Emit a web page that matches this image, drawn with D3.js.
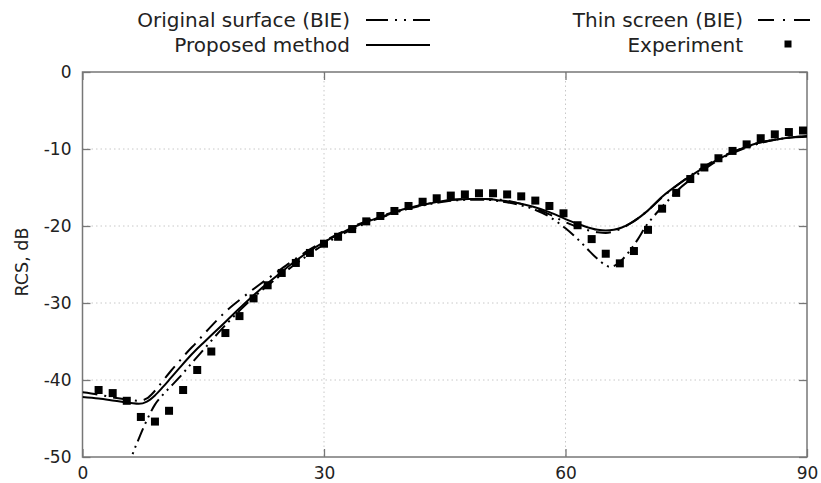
<!DOCTYPE html>
<html>
<head>
<meta charset="utf-8">
<script src="https://cdn.jsdelivr.net/npm/d3@7"></script>
<style>
  body { margin: 0; background: #fff; }
  svg { display: block; font-family: "DejaVu Sans", sans-serif; }
</style>
</head>
<body>
<svg id="chart" width="821" height="483"></svg>
<script>
// ---- data ----
const xTicks = [0, 30, 60, 90];
const yTicks = [0, -10, -20, -30, -40, -50];

const proposedAngles = [0, 2, 4, 6, 7, 8, 9, 10, 11, 12, 13, 14, 15, 16, 18, 20, 22, 24, 26, 28, 30, 32, 34, 36, 38, 40, 42, 44, 46, 48, 50, 52, 54, 56, 58, 60, 62, 64, 65, 66, 67, 68, 70, 72, 74, 76, 78, 80, 82, 84, 86, 88, 90];
const proposedValues = [-42.2, -42.4, -42.7, -43.0, -43.1, -42.8, -42.0, -40.9, -39.7, -38.5, -37.3, -36.2, -35.2, -34.2, -32.2, -30.2, -28.3, -26.6, -24.9, -23.4, -22.1, -21.0, -20.0, -19.2, -18.5, -17.8, -17.3, -16.9, -16.6, -16.5, -16.5, -16.7, -17.0, -17.5, -18.2, -19.1, -19.9, -20.5, -20.6, -20.5, -20.2, -19.7, -18.2, -16.2, -14.6, -13.2, -11.9, -10.8, -9.9, -9.2, -8.8, -8.5, -8.4];

const thinAngles = [0, 2, 4, 6, 7, 8, 9, 10, 11, 12, 13, 14, 16, 18, 20, 22, 24, 26, 28, 30, 32, 34, 36, 38, 40, 42, 44, 46, 48, 50, 52, 54, 56, 58, 60, 62, 64, 65, 66, 67, 68, 70, 72, 74, 76, 78, 80, 82, 84, 86, 88, 90];
const thinValues = [-41.6, -41.9, -42.3, -42.6, -42.7, -42.4, -41.4, -40.1, -38.8, -37.6, -36.4, -35.3, -33.0, -30.9, -29.2, -27.6, -26.1, -24.6, -23.2, -22.0, -20.9, -19.9, -19.1, -18.4, -17.8, -17.3, -16.9, -16.6, -16.5, -16.5, -16.6, -17.0, -17.6, -18.5, -19.5, -20.3, -20.8, -20.9, -20.7, -20.3, -19.7, -18.2, -16.3, -14.6, -13.1, -11.8, -10.7, -9.9, -9.2, -8.8, -8.5, -8.4];

const originalAngles = [5.5, 6.1, 7, 8, 9, 10, 11, 12, 13, 14, 16, 18, 20, 22, 24, 26, 28, 30, 32, 34, 36, 38, 40, 42, 44, 46, 48, 50, 52, 54, 56, 58, 59, 60, 61, 62, 63, 64, 65, 65.5, 66, 67, 68, 69, 70, 71, 72, 73, 74, 76, 78, 80, 82, 84, 86, 88, 90];
const originalValues = [-52.0, -50.0, -47.6, -45.2, -43.2, -41.9, -40.8, -39.7, -38.5, -37.3, -34.9, -32.6, -30.5, -28.6, -26.9, -25.3, -23.8, -22.4, -21.2, -20.2, -19.3, -18.6, -17.9, -17.4, -17.0, -16.7, -16.6, -16.6, -16.8, -17.2, -17.8, -18.8, -19.5, -20.3, -21.2, -22.2, -23.3, -24.3, -25.1, -25.3, -25.2, -24.4, -23.2, -21.7, -20.0, -18.7, -17.5, -16.4, -15.3, -13.6, -12.1, -10.9, -10.0, -9.3, -8.8, -8.5, -8.3];

const expAngles = [2, 3.75, 5.5, 7.25, 9, 10.75, 12.5, 14.25, 16, 17.75, 19.5, 21.25, 23, 24.75, 26.5, 28.25, 30, 31.75, 33.5, 35.25, 37, 38.75, 40.5, 42.25, 44, 45.75, 47.5, 49.25, 51, 52.75, 54.5, 56.25, 58, 59.75, 61.5, 63.25, 65, 66.75, 68.5, 70.25, 72, 73.75, 75.5, 77.25, 79, 80.75, 82.5, 84.25, 86, 87.75, 89.5];
const expValues = [-41.3, -41.7, -42.7, -44.8, -45.4, -44.0, -41.3, -38.7, -36.3, -33.9, -31.7, -29.4, -27.7, -26.1, -24.8, -23.5, -22.3, -21.4, -20.4, -19.4, -18.7, -18.05, -17.4, -16.85, -16.4, -16.05, -15.9, -15.75, -15.75, -15.9, -16.15, -16.7, -17.4, -18.35, -19.9, -21.7, -23.6, -24.85, -23.25, -20.5, -17.75, -15.7, -13.9, -12.4, -11.2, -10.25, -9.4, -8.6, -8.1, -7.8, -7.6];

const legendLabels = ["Original surface (BIE)", "Proposed method", "Thin screen (BIE)", "Experiment"];
const yLabel = "RCS, dB";

// ---- drawing ----
(function () {
const svg = d3.select("#chart");
const pL = 82.5, pR = 807, pT = 72, pB = 457;
const x = d3.scaleLinear().domain([0, 90]).range([pL, pR]);
const y = d3.scaleLinear().domain([-50, 0]).range([pB, pT]);
const frameColor = "#777";
const textColor = "#222";
const tickFont = 17;
const legendFont = 20;
const fmt = d => String(d);

// grid
const grid = svg.append("g");
grid.selectAll("line.gy").data(yTicks.filter(v => v !== 0 && v !== -50)).join("line")
  .attr("x1", pL).attr("x2", pR).attr("y1", d => y(d)).attr("y2", d => y(d))
  .attr("stroke", "#c8c8c8").attr("stroke-width", 1).attr("stroke-dasharray", "1.5,3");
grid.selectAll("line.gx").data(xTicks.filter(v => v !== 0 && v !== 90)).join("line")
  .attr("y1", pT).attr("y2", pB).attr("x1", d => x(d)).attr("x2", d => x(d))
  .attr("stroke", "#c8c8c8").attr("stroke-width", 1).attr("stroke-dasharray", "1.5,3");

// axes
function styleAxis(g) {
  g.select(".domain").remove();
  g.selectAll(".tick line").attr("stroke", frameColor).attr("stroke-width", 1.3);
  g.selectAll(".tick text").attr("fill", textColor).attr("font-size", tickFont)
    .attr("font-family", "DejaVu Sans, sans-serif");
}
svg.append("g").attr("transform", `translate(${pL},0)`)
  .call(d3.axisLeft(y).tickValues(yTicks).tickFormat(fmt).tickSize(-8).tickPadding(11))
  .call(styleAxis);
svg.append("g").attr("transform", `translate(${pR},0)`)
  .call(d3.axisRight(y).tickValues(yTicks).tickFormat("").tickSize(-8))
  .call(styleAxis);
svg.append("g").attr("transform", `translate(0,${pB})`)
  .call(d3.axisBottom(x).tickValues(xTicks).tickFormat(fmt).tickSize(-8).tickPadding(10))
  .call(styleAxis);
svg.append("g").attr("transform", `translate(0,${pT})`)
  .call(d3.axisTop(x).tickValues(xTicks).tickFormat("").tickSize(-8))
  .call(styleAxis);

// frame
svg.append("rect").attr("x", pL).attr("y", pT).attr("width", pR - pL).attr("height", pB - pT)
  .attr("fill", "none").attr("stroke", frameColor).attr("stroke-width", 1.5);

// y label
svg.append("text").attr("transform", `translate(28,262) rotate(-90)`)
  .attr("text-anchor", "middle").attr("font-size", 17.5).attr("fill", textColor).text(yLabel);

// clip
svg.append("clipPath").attr("id", "plotclip").append("rect")
  .attr("x", pL).attr("y", pT).attr("width", pR - pL).attr("height", pB - pT);

const line = d3.line().x(d => x(d[0])).y(d => y(d[1])).curve(d3.curveMonotoneX);
const plot = svg.append("g").attr("clip-path", "url(#plotclip)");

const dashOriginal = "14,5,2,5,2,5";
const dashThin = "15,7,2,7";

plot.append("path").datum(d3.zip(originalAngles, originalValues))
  .attr("d", line).attr("fill", "none").attr("stroke", "#000").attr("stroke-width", 2)
  .attr("stroke-dasharray", dashOriginal);
plot.append("path").datum(d3.zip(thinAngles, thinValues))
  .attr("d", line).attr("fill", "none").attr("stroke", "#000").attr("stroke-width", 2)
  .attr("stroke-dasharray", dashThin);
plot.append("path").datum(d3.zip(proposedAngles, proposedValues))
  .attr("d", line).attr("fill", "none").attr("stroke", "#000").attr("stroke-width", 2);

const sq = 8;
plot.selectAll("rect.exp").data(d3.zip(expAngles, expValues)).join("rect")
  .attr("class", "exp")
  .attr("x", d => x(d[0]) - sq / 2).attr("y", d => y(d[1]) - sq / 2)
  .attr("width", sq).attr("height", sq).attr("fill", "#000");

// legend
const lg = svg.append("g").attr("font-size", legendFont).attr("fill", textColor);
function legendText(txt, xEnd, yc) {
  lg.append("text").attr("x", xEnd).attr("y", yc).attr("dy", "0.35em")
    .attr("text-anchor", "end").text(txt);
}
legendText(legendLabels[0], 350, 20);
legendText(legendLabels[1], 350, 45);
legendText(legendLabels[2], 743, 20);
legendText(legendLabels[3], 743, 45);
svg.append("line").attr("x1", 366).attr("x2", 430).attr("y1", 20).attr("y2", 20)
  .attr("stroke", "#000").attr("stroke-width", 2).attr("stroke-dasharray", "22,7,2,7,2,7");
svg.append("line").attr("x1", 366).attr("x2", 430).attr("y1", 45).attr("y2", 45)
  .attr("stroke", "#000").attr("stroke-width", 2);
svg.append("line").attr("x1", 758).attr("x2", 812).attr("y1", 20).attr("y2", 20)
  .attr("stroke", "#000").attr("stroke-width", 2).attr("stroke-dasharray", "16,9,2,9");
svg.append("rect").attr("x", 788 - 3.5).attr("y", 44 - 3.5).attr("width", 7).attr("height", 7).attr("fill", "#000");
})();
</script>
</body>
</html>
